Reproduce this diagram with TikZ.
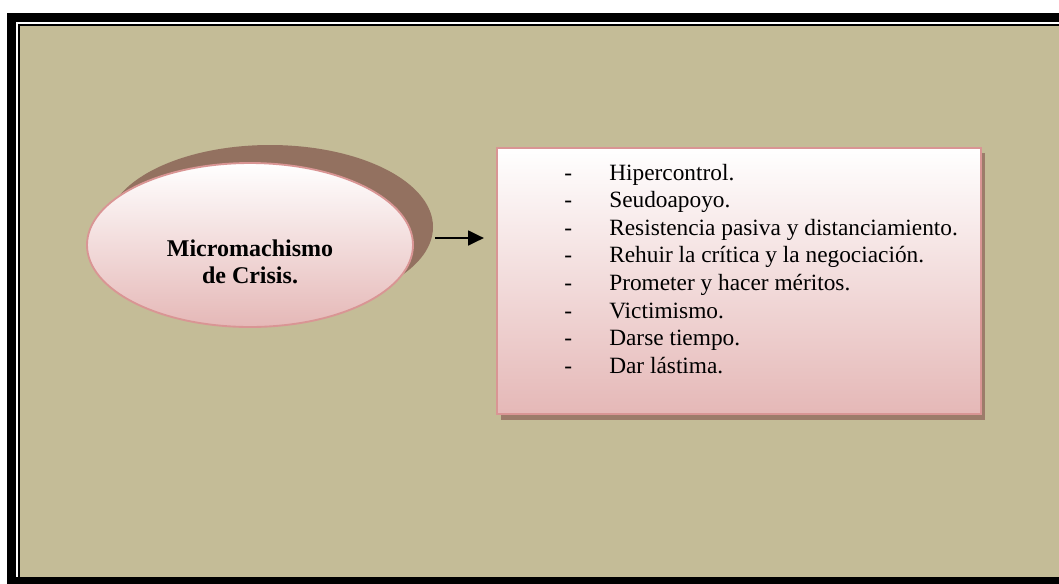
\documentclass[tikz,border=0pt]{standalone}
\usepackage{fontspec}
\setmainfont{Liberation Serif}
\usetikzlibrary{shapes.geometric,arrows.meta}
\definecolor{bg}{HTML}{C4BC97}
\definecolor{pinkb}{HTML}{D99594}
\definecolor{pinkf}{HTML}{E5B8B7}
\definecolor{shade}{HTML}{937160}
\definecolor{boxsh}{HTML}{9C7C6A}
\begin{document}
\begin{tikzpicture}[x=0.75pt,y=-0.75pt,
  ell/.style={ellipse,inner sep=0pt,minimum width=244.5pt,minimum height=123pt},
  itemtxt/.style={anchor=base west,inner sep=0pt,font=\fontsize{17.5}{20.7}\selectfont},
  titletxt/.style={anchor=base,inner sep=0pt,font=\fontsize{18}{20.7}\selectfont\bfseries},
  arr/.style={line width=2.1pt,-{Triangle[length=12pt,width=11pt]}}]
\useasboundingbox (0,0) rectangle (1059,583);
\clip (0,0) rectangle (1059,583);
% frame
\fill[white] (0,0) rectangle (1059,583);
\fill[black] (7,13) rectangle (1080,600);
\fill[white] (16,22) rectangle (1080,577);
\fill[black] (18,24) rectangle (1080,577);
\fill[bg] (20,25.5) rectangle (1080,577);
% ellipse
\node[ell,fill=shade] (sh) at (270,227) {};
\node[ell,draw=pinkb,line width=1.4pt,top color=white,bottom color=pinkf] (e) at (250,245) {};
\node[titletxt] (t1) at (250,256) {Micromachismo};
\node[titletxt] (t2) at (250,283) {de Crisis.};
% box
\fill[boxsh] (501,153) rectangle (985,420);
\node[draw=pinkb,line width=1.5pt,top color=white,bottom color=pinkf,minimum width=363pt,minimum height=199.5pt,inner sep=0pt,anchor=north west] (b) at (496,147) {};
% arrow
\coordinate (a1) at (435,238);
\coordinate (a2) at (484,238);
\draw[arr] (a1) -- (a2);
% items
\foreach \t [count=\i from 0] in {Hipercontrol.,Seudoapoyo.,Resistencia pasiva y distanciamiento.,Rehuir la crítica y la negociación.,Prometer y hacer méritos.,Victimismo.,Darse tiempo.,Dar lástima.}{
  \node[itemtxt] (d\i) at (564,180+27.6*\i) {-};
  \node[itemtxt] (l\i) at (609,180+27.6*\i) {\t};
}
\end{tikzpicture}
\end{document}
